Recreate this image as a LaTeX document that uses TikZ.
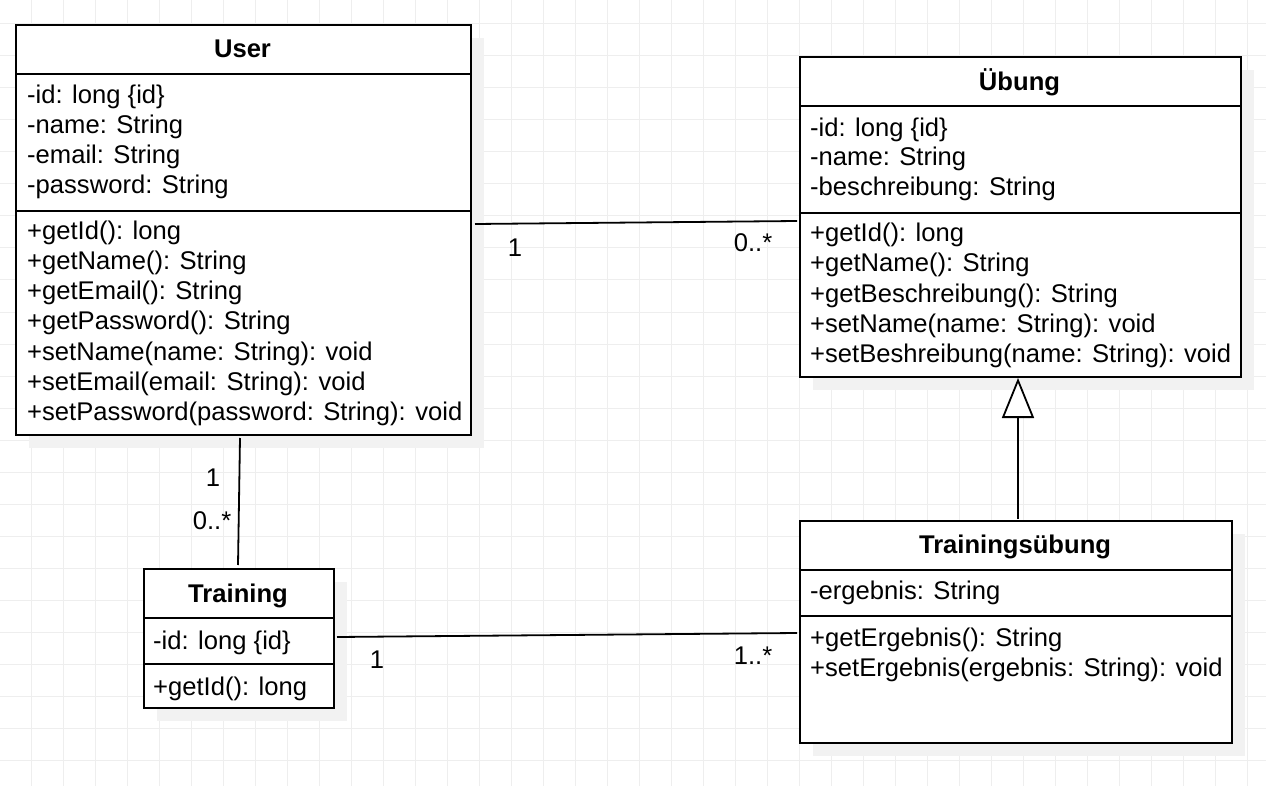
\documentclass[tikz,border=0pt]{standalone}
\usepackage{fontspec}
\setmainfont{Liberation Sans}
\usetikzlibrary{arrows.meta}
\definecolor{gridc}{HTML}{EEEEEE}
\definecolor{shadowc}{HTML}{F2F2F2}
\tikzset{
  classbox/.style={draw=black, line width=2pt, fill=white, anchor=north west, inner sep=0pt},
  shadowbox/.style={fill=shadowc, draw=none},
  member/.style={anchor=base west, inner sep=0pt, font=\fontsize{25.6}{30}\selectfont},
  ctitle/.style={anchor=base, inner sep=0pt, font=\fontsize{25.6}{30}\selectfont\bfseries},
  divider/.style={line width=2pt},
  assoc/.style={line width=1.8pt},
  mult/.style={inner sep=0pt, font=\fontsize{25.6}{30}\selectfont},
  genarrow/.style={line width=1.8pt, -{Triangle[open, length=40pt, width=32pt, fill=white]}}
}
\begin{document}
\begin{tikzpicture}[x=1pt, y=-1pt]
\useasboundingbox (0,0) rectangle (1266,786);
\fill[white] (0,0) rectangle (1266,786);
% grid
\foreach \gx in {31.3,63.3,...,1266} \draw[gridc, line width=1pt] (\gx,0) -- (\gx,786);
\foreach \gy in {24,56,...,786} \draw[gridc, line width=1pt] (0,\gy) -- (1266,\gy);
% shadows
\fill[shadowbox] (29,38) rectangle (484,448);
\fill[shadowbox] (813,70) rectangle (1254,390);
\fill[shadowbox] (813,534) rectangle (1245,756);
\fill[shadowbox] (157,582) rectangle (347,721);

% User
\node[classbox, minimum width=455pt, minimum height=410pt] (user) at (15,24) {};
\draw[divider] (15,74) -- (470,74);
\draw[divider] (15,211) -- (470,211);
\node[ctitle] (userT) at (242.5,57.5) {User};
\node[member] (u1) at (27,104) {-id: long \{id\}};
\node[member] (u2) at (27,134) {-name: String};
\node[member] (u3) at (27,164) {-email: String};
\node[member] (u4) at (27,194) {-password: String};
\node[member] (u5) at (27,240) {+getId(): long};
\node[member] (u6) at (27,270) {+getName(): String};
\node[member] (u7) at (27,300) {+getEmail(): String};
\node[member] (u8) at (27,330) {+getPassword(): String};
\node[member] (u9) at (27,360) {+setName(name: String): void};
\node[member] (u10) at (27,390) {+setEmail(email: String): void};
\node[member] (u11) at (27,420) {+setPassword(password: String): void};

% Uebung
\node[classbox, minimum width=441pt, minimum height=320pt] (ubung) at (799,56) {};
\draw[divider] (799,106) -- (1240,106);
\draw[divider] (799,213) -- (1240,213);
\node[ctitle] (ubungT) at (1019.5,90.5) {Übung};
\node[member] (b1) at (810,137) {-id: long \{id\}};
\node[member] (b2) at (810,166) {-name: String};
\node[member] (b3) at (810,196) {-beschreibung: String};
\node[member] (b4) at (810,242) {+getId(): long};
\node[member] (b5) at (810,272) {+getName(): String};
\node[member] (b6) at (810,302) {+getBeschreibung(): String};
\node[member] (b7) at (810,332) {+setName(name: String): void};
\node[member] (b8) at (810,362) {+setBeshreibung(name: String): void};

% Trainingsuebung
\node[classbox, minimum width=432pt, minimum height=222pt] (tu) at (799,520) {};
\draw[divider] (799,570) -- (1231,570);
\draw[divider] (799,616) -- (1231,616);
\node[ctitle] (tuT) at (1015,553.5) {Trainingsübung};
\node[member] (t1) at (810,599) {-ergebnis: String};
\node[member] (t2) at (810,646) {+getErgebnis(): String};
\node[member] (t3) at (810,676) {+setErgebnis(ergebnis: String): void};

% Training
\node[classbox, minimum width=190pt, minimum height=139pt] (training) at (143,568) {};
\draw[divider] (143,618) -- (333,618);
\draw[divider] (143,664) -- (333,664);
\node[ctitle] (trT) at (238,602.5) {Training};
\node[member] (r1) at (153,649) {-id: long \{id\}};
\node[member] (r2) at (153,695) {+getId(): long};

% connectors
\draw[assoc] ([xshift=3pt, yshift=6pt]user.east) -- ([xshift=-2pt, yshift=-4pt]ubung.west);
\draw[assoc] ([xshift=-3.5pt, yshift=-2pt]user.south) -- ([xshift=-1pt, yshift=3pt]training.north);
\draw[assoc] ([xshift=2pt, yshift=1.5pt]training.east) -- ([xshift=-2pt, yshift=-1pt]tu.west);
\draw[genarrow] ([xshift=2pt, yshift=1pt]tu.north) -- ([xshift=-2.5pt]ubung.south);

% multiplicities
\node[mult] (m1) at (515,248) {1};
\node[mult] (m2) at (753,243) {0..*};
\node[mult] (m3) at (213,478) {1};
\node[mult] (m4) at (212,521) {0..*};
\node[mult] (m5) at (377,660) {1};
\node[mult] (m6) at (753,656) {1..*};
\end{tikzpicture}
\end{document}
